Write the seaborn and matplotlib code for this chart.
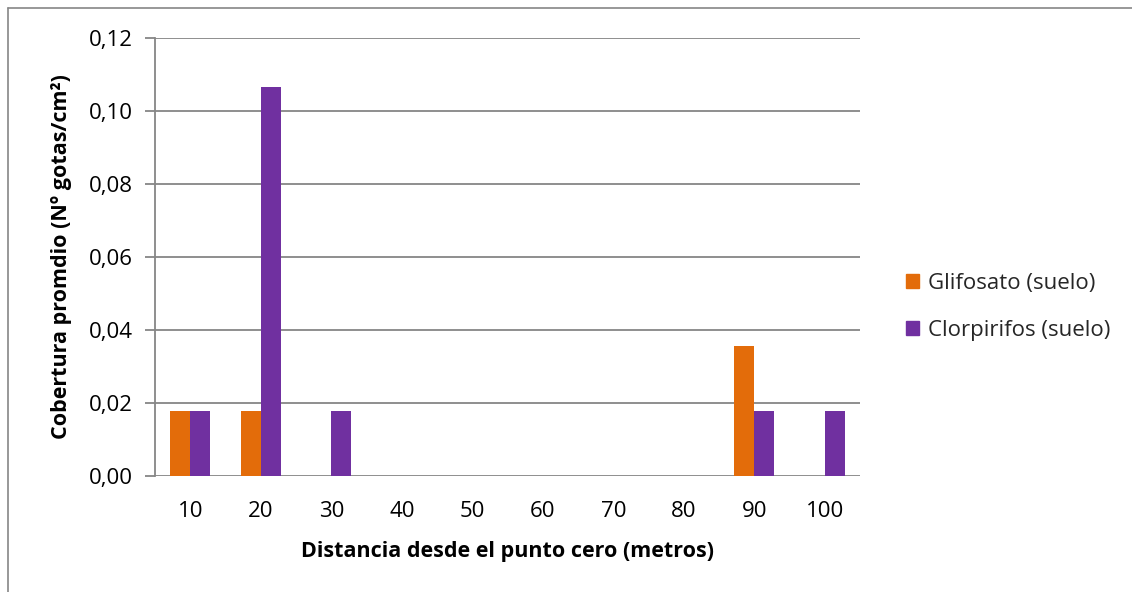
import matplotlib
matplotlib.use("Agg")
import matplotlib.pyplot as plt
import seaborn as sns
import pandas as pd
from matplotlib.lines import Line2D

distancias = ["10", "20", "30", "40", "50", "60", "70", "80", "90", "100"]
glifosato = [0.0178, 0.0178, 0, 0, 0, 0, 0, 0, 0.0356, 0]
clorpirifos = [0.0178, 0.1067, 0.0178, 0, 0, 0, 0, 0, 0.0178, 0.0178]
series = ["Glifosato (suelo)", "Clorpirifos (suelo)"]
colores = ["#E36C0A", "#7030A0"]
yticks = [0.00, 0.02, 0.04, 0.06, 0.08, 0.10, 0.12]

df = pd.DataFrame({
    "dist": distancias * 2,
    "valor": glifosato + clorpirifos,
    "serie": [series[0]] * len(distancias) + [series[1]] * len(distancias),
})

sns.set_theme(style="white")
plt.rcParams["font.family"] = ["Open Sans", "DejaVu Sans"]

fig = plt.figure(figsize=(11.32, 5.92), dpi=100)
ax = fig.add_axes([155/1132, 1-476/592, (860-155)/1132, (476-38)/592])

sns.barplot(data=df, x="dist", y="valor", hue="serie", order=distancias,
            hue_order=series, palette=colores, width=0.567, gap=0,
            saturation=1, linewidth=0, ax=ax, legend=False)

ax.set_ylim(0, 0.12)
ax.set_xlim(-0.5, len(distancias) - 0.5)
ax.set_yticks(yticks)
ax.set_yticklabels([f"{v:.2f}".replace(".", ",") for v in yticks])
ax.grid(axis="y", color="#868686", linewidth=1.3)
ax.set_axisbelow(True)
for s in ["top", "right", "bottom"]:
    ax.spines[s].set_visible(False)
ax.spines["left"].set_color("#868686")
ax.spines["left"].set_linewidth(1.3)
ax.tick_params(axis="y", which="major", left=True, length=7, width=1.3,
               color="#868686", labelsize=16, pad=9, labelcolor="black")
ax.tick_params(axis="x", bottom=False, labelsize=16, pad=12, labelcolor="black")

ax.set_xlabel("Distancia desde el punto cero (metros)", fontsize=15.5,
              fontweight="bold", labelpad=14, color="black")
ax.set_ylabel("Cobertura promdio (Nº gotas/cm²)", fontsize=15.5,
              fontweight="bold", labelpad=12, color="black")

handles = [plt.Rectangle((0, 0), 1, 1, color=c) for c in colores]
fig.legend(handles, series, loc="center left", bbox_to_anchor=(895/1132, 1-307/592),
           frameon=False, fontsize=16, handlelength=0.6, handleheight=0.6,
           handletextpad=0.4, labelspacing=1.15, borderpad=0)

# chart area border (top and left edges visible)
fig.add_artist(Line2D([8/1132, 1], [1-8/592, 1-8/592], color="#868686", lw=1.2))
fig.add_artist(Line2D([8/1132, 8/1132], [0, 1-8/592], color="#868686", lw=1.2))

fig.savefig("out.png", dpi=100, facecolor="white")
